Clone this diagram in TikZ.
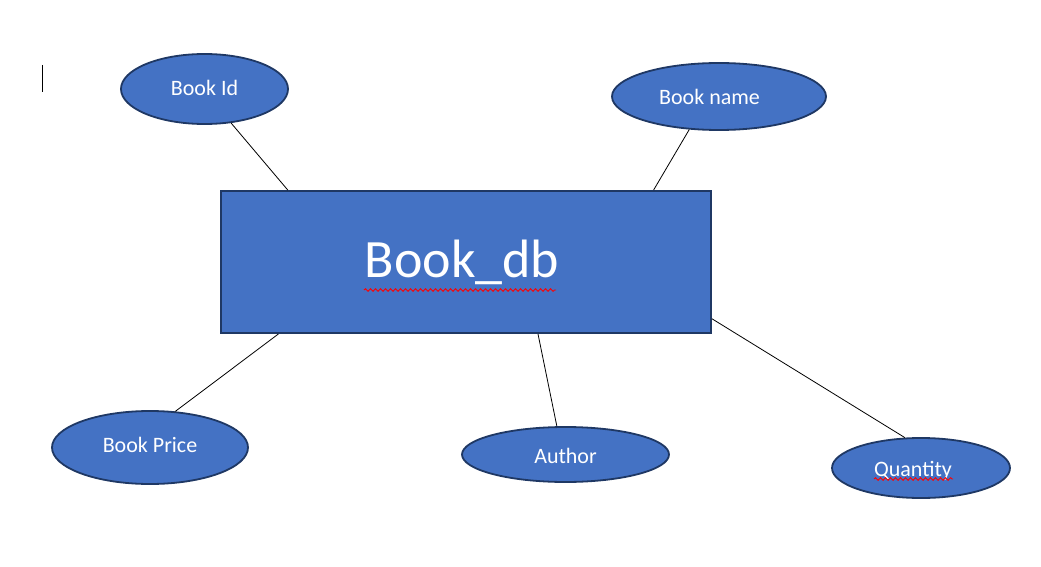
\documentclass[tikz,border=0pt]{standalone}
\usepackage{fontspec}
\setmainfont{Carlito}
\usetikzlibrary{shapes.geometric,decorations.pathmorphing}
\definecolor{fillblue}{HTML}{4472C4}
\definecolor{edgeblue}{HTML}{1F3864}
\newcommand\txtpos[3]{\raisebox{#2}[\height][\depth]{#3}\kern#1\relax}
\tikzset{
  attr/.style={ellipse, draw=edgeblue, line width=1.8pt, fill=fillblue, text=white, inner sep=0pt, font=\fontsize{22}{26}\selectfont},
  entity/.style={rectangle, draw=edgeblue, line width=2pt, fill=fillblue, text=white, inner sep=0pt, minimum width=490pt, minimum height=142pt, font=\fontsize{54}{62}\selectfont},
  link/.style={draw=black, line width=0.8pt},
  squig/.style={draw=red, line width=0.9pt, decorate, decoration={snake, segment length=5pt, amplitude=1.3pt}}
}
\begin{document}
\begin{tikzpicture}[x=1pt,y=-1pt]
\useasboundingbox (0,0) rectangle (1041,567);
\fill[white] (0,0) rectangle (1041,567);
% cursor
\draw[black, line width=1pt] (42,65) -- (42,92);
% entity
\node[entity] (db) at (466,262) {\txtpos{8pt}{0pt}{Book\_db}};
% attributes
\node[attr, minimum width=167pt, minimum height=70pt] (bookid) at (204.5,89) {\txtpos{0pt}{1.5pt}{Book Id}};
\node[attr, minimum width=214pt, minimum height=67pt] (bookname) at (719,96.5) {\txtpos{19pt}{0pt}{Book name}};
\node[attr, minimum width=196pt, minimum height=73pt] (price) at (150,447.5) {\txtpos{0pt}{2.5pt}{Book Price}};
\node[attr, minimum width=207pt, minimum height=55pt] (author) at (565.5,454.5) {\txtpos{0pt}{-1pt}{Author}};
\node[attr, minimum width=178pt, minimum height=60pt] (qty) at (921,468) {\txtpos{16pt}{-2.5pt}{Quantity}};
% connectors
\draw[link] (bookid.-52.6) -- (db.158.4);
\draw[link] (bookname.-132.1) -- (db.21.2);
\draw[link] (price.55.5) -- (db.-159.8);
\draw[link] (author.107.8) -- (db.-45.8);
\draw[link] (qty.118.1) -- (db.-13.3);
% spell-check underlines
\draw[squig] (364,290) -- (556,290);
\draw[squig] (874,479) -- (953,479);
\end{tikzpicture}
\end{document}
